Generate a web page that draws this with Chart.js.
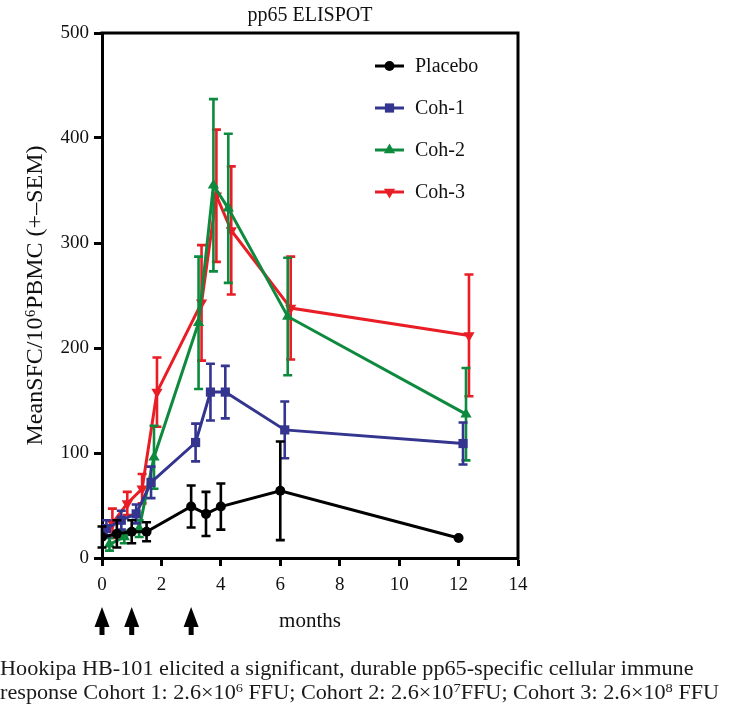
<!DOCTYPE html>
<html>
<head>
<meta charset="utf-8">
<script src="https://cdn.jsdelivr.net/npm/chart.js@4.4.1/dist/chart.umd.min.js"></script>
<style>
  html, body { margin: 0; padding: 0; background: #fff; }
  #wrap { position: relative; width: 729px; height: 712px; }
  #caption { position: absolute; left: 0; top: 656px; font-family: "Liberation Serif", serif; font-size: 20px; line-height: 24px; color: #1a1a1a; white-space: nowrap; transform: scaleX(1.11); transform-origin: 0 0; }
  #caption sup { font-size: 13px; line-height: 0; vertical-align: 7px; }
</style>
</head>
<body>
<div id="wrap">
  <canvas id="c" width="729" height="712"></canvas>
  <div id="caption">Hookipa HB-101 elicited a significant, durable pp65-specific cellular immune<br>response Cohort 1: 2.6×10<sup>6</sup> FFU; Cohort 2: 2.6×10<sup>7</sup>FFU; Cohort 3: 2.6×10<sup>8</sup> FFU</div>
</div>
<script>
// ---- data ----
const seriesNames = ["Placebo", "Coh-1", "Coh-2", "Coh-3"];
const placeboMonths = [0, 0.5, 1, 1.5, 3, 3.5, 4, 6, 12];
const placeboMean   = [20, 23, 25, 25, 49, 42, 49, 64, 19];
const placeboSem    = [10, 13, 11, 9, 20, 21, 22, 47, 1];
const coh1Months = [0.15, 0.65, 1.15, 1.65, 3.15, 3.65, 4.15, 6.15, 12.15];
const coh1Mean   = [28, 36, 42, 72, 110, 158, 158, 122, 109];
const coh1Sem    = [8, 9, 9, 15, 18, 27, 25, 27, 20];
const coh2Months = [0.25, 0.75, 1.25, 1.75, 3.25, 3.75, 4.25, 6.25, 12.25];
const coh2Mean   = [13, 20, 28, 96, 224, 355, 333, 230, 137];
const coh2Sem    = [6, 6, 8, 30, 63, 82, 71, 56, 44];
const coh3Months = [0.35, 0.85, 1.35, 1.85, 3.35, 3.85, 4.35, 6.35, 12.35];
const coh3Mean   = [33, 52, 66, 158, 243, 345, 312, 238, 212];
const coh3Sem    = [14, 11, 14, 33, 55, 63, 61, 49, 58];
const xTicks = [0, 2, 4, 6, 8, 10, 12, 14];
const yTicks = [0, 100, 200, 300, 400, 500];
const doseMonths = [0, 1, 3];

const FONT = '"Liberation Serif", "Times New Roman", serif';
const colors = ["#000000", "#33358F", "#0E8A3E", "#E81D25"];
const styles = ["circle", "rect", "triangle", "triangle"];
const rotations = [0, 0, 0, 180];
const radii = [5, 6.5, 6.5, 6.5];

function pts(xs, ys) { return xs.map((x, i) => ({ x: x, y: ys[i] })); }
const allData = [
  [placeboMonths, placeboMean, placeboSem],
  [coh1Months, coh1Mean, coh1Sem],
  [coh2Months, coh2Mean, coh2Sem],
  [coh3Months, coh3Mean, coh3Sem]
];

const datasets = allData.map((d, k) => ({
  label: seriesNames[k],
  data: pts(d[0], d[1]),
  sem: d[2],
  borderColor: colors[k],
  backgroundColor: colors[k],
  borderWidth: 3,
  pointStyle: styles[k],
  rotation: rotations[k],
  pointRadius: radii[k],
  pointBorderWidth: 0,
  pointHoverRadius: radii[k],
  tension: 0,
  fill: false
}));

const errorBars = {
  id: 'errorBars',
  beforeDatasetDraw(chart, args) {
    const ds = chart.data.datasets[args.index];
    const ys = chart.scales.y, xs = chart.scales.x;
    const ctx = chart.ctx;
    ctx.save();
    ctx.strokeStyle = ds.borderColor;
    ctx.lineWidth = 2.6;
    ds.data.forEach((p, i) => {
      const s = ds.sem[i];
      if (s < 2) return;
      const px = xs.getPixelForValue(p.x);
      const t = ys.getPixelForValue(p.y + s);
      const b = ys.getPixelForValue(Math.max(0, p.y - s));
      ctx.beginPath();
      ctx.moveTo(px, t); ctx.lineTo(px, b);
      ctx.moveTo(px - 4.5, t); ctx.lineTo(px + 4.5, t);
      ctx.moveTo(px - 4.5, b); ctx.lineTo(px + 4.5, b);
      ctx.stroke();
    });
    ctx.restore();
  }
};

const extras = {
  id: 'extras',
  afterDraw(chart) {
    const ctx = chart.ctx;
    const a = chart.chartArea;
    ctx.save();
    // frame top and right
    ctx.strokeStyle = '#000';
    ctx.lineWidth = 3;
    ctx.beginPath();
    ctx.moveTo(a.left - 1.5, a.top);
    ctx.lineTo(a.right, a.top);
    ctx.lineTo(a.right, a.bottom + 1.5);
    ctx.stroke();
    // legend
    const legY = [66, 108, 150, 192];
    chart.data.datasets.forEach((ds, k) => {
      const y = legY[k];
      ctx.strokeStyle = ds.borderColor;
      ctx.lineWidth = 3;
      ctx.beginPath(); ctx.moveTo(375, y); ctx.lineTo(404, y); ctx.stroke();
      ctx.fillStyle = ds.borderColor;
      Chart.helpers.drawPoint(ctx, { pointStyle: ds.pointStyle, rotation: ds.rotation, radius: ds.pointRadius, borderWidth: 0 }, 389.5, y);
      ctx.fillStyle = '#111';
      ctx.font = '20px ' + FONT;
      ctx.textBaseline = 'middle';
      ctx.textAlign = 'left';
      ctx.fillText(ds.label, 415, y + 1);
    });
    // dose arrows
    ctx.fillStyle = '#000';
    doseMonths.forEach(m => {
      const x = chart.scales.x.getPixelForValue(m);
      ctx.beginPath();
      ctx.moveTo(x, 607);
      ctx.lineTo(x + 7.5, 627);
      ctx.lineTo(x - 7.5, 627);
      ctx.closePath();
      ctx.fill();
      ctx.fillRect(x - 2.5, 625, 5, 10);
    });
    ctx.restore();
  }
};

new Chart(document.getElementById('c'), {
  type: 'line',
  data: { datasets: datasets },
  plugins: [errorBars, extras],
  options: {
    responsive: false,
    animation: false,
    events: [],
    layout: { padding: { left: 0, top: 0, right: 211, bottom: 0 } },
    plugins: {
      legend: { display: false },
      tooltip: { enabled: false },
      title: {
        display: true,
        text: 'pp65 ELISPOT',
        fullSize: false,
        color: '#111',
        font: { family: FONT, size: 20, weight: 'normal', lineHeight: 1.2 },
        padding: { top: 4, bottom: 5 }
      }
    },
    scales: {
      x: {
        type: 'linear',
        min: 0, max: 14,
        afterBuildTicks: s => { s.ticks = xTicks.map(v => ({ value: v })); },
        afterFit: s => { s.height = 154; },
        ticks: { color: '#111', font: { family: FONT, size: 19 }, padding: 8, maxRotation: 0 },
        grid: { drawOnChartArea: false, color: '#000', tickLength: 8, tickWidth: 3 },
        border: { color: '#000', width: 3 },
        title: { display: true, text: 'months', color: '#111', font: { family: FONT, size: 21 }, padding: { top: 0, bottom: 78 } }
      },
      y: {
        min: 0, max: 500,
        afterBuildTicks: s => { s.ticks = yTicks.map(v => ({ value: v })); },
        afterFit: s => { s.width = 102; },
        ticks: { color: '#111', font: { family: FONT, size: 19 }, padding: 5 },
        grid: { drawOnChartArea: false, color: '#000', tickLength: 8, tickWidth: 3 },
        border: { color: '#000', width: 3 },
        title: { display: true, text: 'MeanSFC/10⁶PBMC (+–SEM)', color: '#111', font: { family: FONT, size: 24 }, padding: { top: 21, bottom: 0 } }
      }
    }
  }
});
</script>
</body>
</html>
